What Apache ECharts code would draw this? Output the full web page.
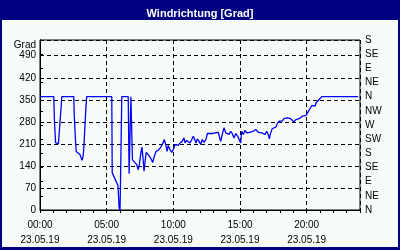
<!DOCTYPE html>
<html><head><meta charset="utf-8">
<script src="https://cdn.jsdelivr.net/npm/echarts@6/dist/echarts.min.js"></script>
<style>html,body{margin:0;padding:0;background:#fff}#c{width:400px;height:250px}</style>
</head><body><div id="c"></div>
<script>
// time of day in minutes, wind direction in degrees
var times = [0,62,65,70,83,90,95,98,152,154,160,163,171,180,189,194,198,203,207,210,323,325,333,342,351,356,360,362,368,397,401,405,409,412,416,
424,435,442,447,455,459,464,468,473,478,487,498,507,514,522,532,541,548,554,559,566,572,577,585,593,600,608,615,622,630,640,648,653,660,667,675,683,690,698,702,708,716,723,730,738,747,753,765,777,788,795,802,807,813,822,828,836,843,851,858,865,873,881,890,897,903,908,915,923,930,937,945,953,960,971,978,982,990,998,1005,1013,1020,1027,1032,1038,1045,1054,1062,1068,1076,1085,1090,1098,1106,1113,1121,1128,1135,1143,1151,1158,1166,1173,1180,1188,1196,1203,1211,1216,1223,1230,1238,1242,1248,1256,1261,1268,1432];
var values = [360,360,284,214,210,280,325,360,360,303,217,186,184,176,158,170,205,278,330,360,360,118,106,103,77,7,0,74,360,360,115,115,360,360,160,
155,144,128,144,186,200,160,123,155,183,176,165,151,170,186,190,197,202,213,224,208,186,205,192,183,192,208,213,205,213,218,229,213,221,226,213,224,234,221,213,226,218,208,224,215,224,243,243,243,245,240,247,234,218,245,261,245,250,240,250,243,229,243,234,229,213,250,240,253,245,250,247,245,250,256,261,247,253,245,247,240,250,240,226,245,258,261,264,275,282,285,282,290,285,293,287,290,285,280,287,293,290,296,298,300,300,306,317,321,332,332,330,340,346,351,349,360,360];
var leftTicks = [0,70,140,210,280,350,420,490];
var dirLabels = ['N','NE','E','SE','S','SW','W','NW','N','NE','E','SE','S'];
var dateLabel = '23.05.19';
var titleText = 'Windrichtung [Grad]';
var yName = 'Grad';

var data = times.map(function(t,i){return [t, values[i]];});
var font = 'Liberation Sans';
var chart = echarts.init(document.getElementById('c'), null, {renderer:'canvas'});
chart.setOption({
  backgroundColor:'#000080',
  animation:false,
  title:{text:titleText,left:'center',top:3,textStyle:{color:'#fff',fontSize:11,fontWeight:'bold',fontFamily:font}},
  graphic:[
    {type:'rect',shape:{x:2,y:20,width:396,height:227},style:{fill:'#f8fcf8'},z:-10},
    {type:'text',x:36,y:45,style:{text:yName,align:'right',verticalAlign:'middle',fill:'#000',font:'10px "Liberation Sans"'}}
  ],
  grid:{left:40,right:40,top:40,bottom:40,show:true,borderColor:'#000',borderWidth:1,backgroundColor:'#f8fcf8'},
  xAxis:[
    {type:'value',min:0,max:1440,interval:60,
     axisLine:{lineStyle:{color:'#000',width:1}},
     axisTick:{show:true,length:3,lineStyle:{color:'#000'}},
     axisLabel:{show:false},splitLine:{show:false}},
    {type:'value',min:0,max:1440,interval:300,position:'bottom',
     axisLine:{show:false},axisTick:{show:false},
     axisLabel:{margin:8,color:'#000',fontSize:10,fontFamily:font,lineHeight:15,
       formatter:function(v){if(v%300!==0||v>=1440)return '';var h=v/60;return (h<10?'0':'')+h+':00\n'+dateLabel;}},
     splitLine:{show:true,lineStyle:{color:'#000',type:[4,3],width:1}}}
  ],
  yAxis:[
    {type:'value',min:0,max:540,interval:70,position:'left',
     axisLine:{show:true,lineStyle:{color:'#000'}},axisTick:{show:false},
     axisLabel:{margin:4,color:'#000',fontSize:10,fontFamily:font,
       formatter:function(v){return leftTicks.indexOf(v)>=0?String(v):'';}},
     splitLine:{show:true,lineStyle:{color:'#000',type:[4,3],width:1}}},
    {type:'value',min:0,max:540,interval:45,position:'right',
     axisLine:{show:true,lineStyle:{color:'#000'}},
     axisTick:{show:true,length:3,lineStyle:{color:'#000'}},
     axisLabel:{margin:5,color:'#000',fontSize:10,fontFamily:font,
       formatter:function(v){return dirLabels[Math.round(v/45)]||'';}},
     splitLine:{show:false}}
  ],
  series:[{type:'line',xAxisIndex:0,yAxisIndex:0,data:data,showSymbol:false,symbol:'none',
    lineStyle:{color:'#0000ff',width:1.3},z:5}]
});
</script></body></html>
